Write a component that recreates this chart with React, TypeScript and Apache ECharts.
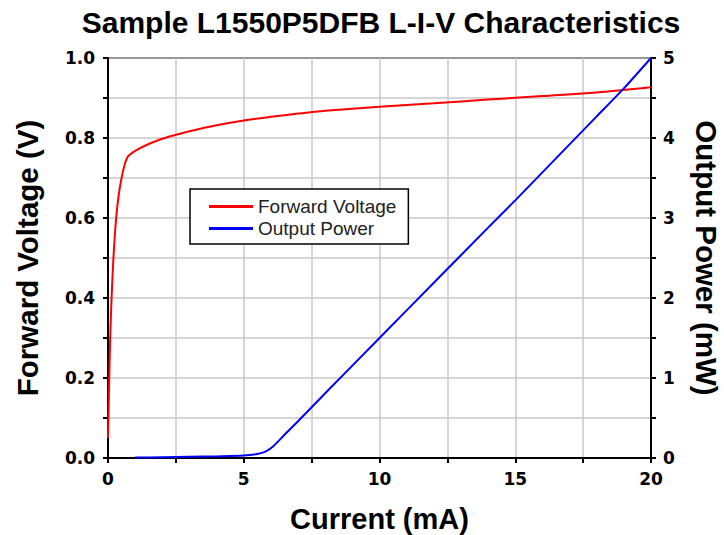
import React, { useEffect, useRef } from "react";
import * as echarts from "echarts";

const title = "Sample L1550P5DFB L-I-V Characteristics";
const xName = "Current (mA)";
const leftName = "Forward Voltage (V)";
const rightName = "Output Power (mW)";

// Forward voltage: [current mA, voltage V]
const voltageCurrent = [0, 0.03, 0.07, 0.12, 0.2, 0.3, 0.4, 0.5, 0.6, 0.7, 0.8, 1.0, 1.5, 2, 2.5, 3, 4, 5, 6, 7, 8, 10, 12, 14, 16, 18, 20];
const voltageValues = [0.05, 0.15, 0.27, 0.38, 0.5, 0.6, 0.66, 0.7, 0.73, 0.75, 0.758, 0.768, 0.785, 0.798, 0.808, 0.817, 0.832, 0.844, 0.853, 0.861, 0.868, 0.878, 0.887, 0.896, 0.905, 0.914, 0.927];

// Output power: [current mA, power mW]
const powerCurrent = [1, 2, 3, 4, 5, 5.5, 5.8, 6.1, 6.5, 7, 8, 10, 12, 14, 15, 16, 18, 19, 20];
const powerValues = [0.005, 0.01, 0.015, 0.02, 0.03, 0.05, 0.08, 0.15, 0.29, 0.46, 0.81, 1.5, 2.19, 2.88, 3.22, 3.57, 4.27, 4.62, 5.0];

export default function App() {
  const ref = useRef<HTMLDivElement>(null);
  useEffect(() => {
    if (!ref.current) return;
    const chart = echarts.init(ref.current, undefined, { renderer: "svg" });
    const font = "Liberation Sans, Arial, sans-serif";
    const tickFont = "DejaVu Sans, sans-serif";
    const axisCommon = {
      axisLine: { show: true, lineStyle: { color: "#000", width: 2 } },
      axisTick: { show: true, inside: false, length: 5, lineStyle: { color: "#000", width: 2 } },
      minorTick: { show: true, splitNumber: 2, length: 5, lineStyle: { color: "#000", width: 2 } },
      axisLabel: { color: "#000", fontFamily: tickFont, fontWeight: "bold", fontSize: 17 },
      nameTextStyle: { color: "#000", fontFamily: font, fontWeight: "bold", fontSize: 29.5 },
    };
    chart.setOption({
      animation: false,
      backgroundColor: "#fff",
      title: {
        text: title,
        left: 376,
        top: 2,
        textAlign: "center",
        textStyle: { color: "#000", fontFamily: font, fontWeight: "bold", fontSize: 30 },
      },
      legend: {
        orient: "vertical",
        left: 190,
        top: 189,
        padding: [8, 12, 6, 19],
        itemGap: 3,
        itemWidth: 44,
        itemHeight: 3,
        borderColor: "#000",
        borderWidth: 1.5,
        borderRadius: 0,
        backgroundColor: "#fff",
        textStyle: { color: "#222", fontFamily: font, fontSize: 19, padding: [0, 0, 0, 0] },
        data: [
          { name: "Forward Voltage", icon: "rect" },
          { name: "Output Power", icon: "rect" },
        ],
      },
      grid: {
        left: 108,
        right: 73,
        top: 58,
        bottom: 77,
        show: true,
        borderColor: "#000",
        borderWidth: 2,
        containLabel: false,
        outerBoundsMode: "none",
      },
      xAxis: {
        type: "value",
        min: 0,
        max: 20,
        interval: 5,
        name: xName,
        nameLocation: "middle",
        nameGap: 46,
        ...axisCommon,
        nameTextStyle: { ...axisCommon.nameTextStyle, fontSize: 29 },
        axisLabel: { ...axisCommon.axisLabel, margin: 12 },
        splitLine: { show: true, lineStyle: { color: "#c8c8c8", width: 1.5 } },
        minorSplitLine: { show: true, lineStyle: { color: "#c8c8c8", width: 1.5 } },
      },
      yAxis: [
        {
          type: "value",
          min: 0,
          max: 1,
          interval: 0.2,
          position: "left",
          name: leftName,
          nameLocation: "middle",
          nameGap: 66,
          ...axisCommon,
          axisLabel: { ...axisCommon.axisLabel, margin: 13, formatter: (v: number) => v.toFixed(1) },
          splitLine: { show: true, lineStyle: { color: "#c8c8c8", width: 1.5 } },
          minorSplitLine: { show: true, lineStyle: { color: "#c8c8c8", width: 1.5 } },
        },
        {
          type: "value",
          min: 0,
          max: 5,
          interval: 1,
          position: "right",
          name: rightName,
          nameLocation: "middle",
          nameRotate: -90,
          nameGap: 40,
          ...axisCommon,
          axisLabel: { ...axisCommon.axisLabel, margin: 12 },
          splitLine: { show: false },
          minorSplitLine: { show: false },
        },
      ],
      series: [
        {
          name: "Forward Voltage",
          type: "line",
          yAxisIndex: 0,
          smooth: 0.3,
          showSymbol: false,
          color: "#ff0000",
          lineStyle: { color: "#ff0000", width: 2 },
          data: voltageCurrent.map((c, i) => [c, voltageValues[i]]),
        },
        {
          name: "Output Power",
          type: "line",
          yAxisIndex: 1,
          smooth: 0.2,
          showSymbol: false,
          color: "#0000ff",
          lineStyle: { color: "#0000ff", width: 2 },
          data: powerCurrent.map((c, i) => [c, powerValues[i]]),
        },
      ],
    });
    return () => chart.dispose();
  }, []);
  return <div ref={ref} style={{ width: 724, height: 535, position: "absolute", left: 0, top: 0 }} />;
}
